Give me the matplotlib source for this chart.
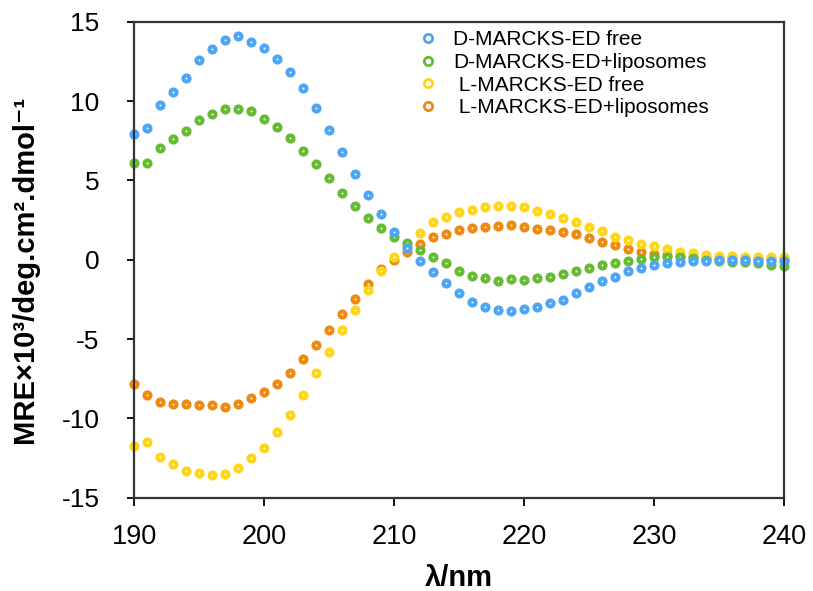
import numpy as np
import matplotlib
matplotlib.use("Agg")
import matplotlib.pyplot as plt
from matplotlib.lines import Line2D

plt.rcParams['font.family'] = ['Liberation Sans', 'DejaVu Sans']
plt.rcParams['axes.unicode_minus'] = False

wavelength = np.arange(190, 241)

d_free = [7.96, 8.31, 9.75, 10.59, 11.48, 12.57, 13.31, 13.84, 14.11, 13.75,
          13.33, 12.64, 11.86, 10.80, 9.58, 8.16, 6.79, 5.38, 4.11, 2.89,
          1.77, 0.74, -0.10, -0.80, -1.48, -2.07, -2.66, -2.99, -3.16, -3.21,
          -3.10, -2.99, -2.74, -2.51, -2.11, -1.69, -1.31, -1.06, -0.68, -0.53,
          -0.32, -0.21, -0.17, -0.11, -0.06, -0.04, 0.00, 0.00, -0.06, -0.11,
          -0.06]
d_lipo = [6.08, 6.08, 7.03, 7.59, 8.10, 8.80, 9.20, 9.53, 9.51, 9.37,
          8.90, 8.35, 7.66, 6.86, 6.06, 5.13, 4.22, 3.42, 2.62, 2.00,
          1.42, 1.03, 0.61, 0.17, -0.23, -0.68, -1.01, -1.18, -1.31, -1.24,
          -1.27, -1.18, -1.06, -0.93, -0.74, -0.55, -0.36, -0.21, -0.06, 0.06,
          0.15, 0.17, 0.17, 0.11, 0.00, -0.08, -0.17, -0.17, -0.23, -0.32,
          -0.42]
l_free = [-11.77, -11.50, -12.41, -12.87, -13.29, -13.46, -13.59, -13.48, -13.14, -12.53,
          -11.86, -10.89, -9.77, -8.54, -7.17, -5.80, -4.45, -3.16, -1.90, -0.74,
          0.19, 0.85, 1.69, 2.41, 2.68, 3.02, 3.16, 3.33, 3.42, 3.40,
          3.31, 3.06, 2.91, 2.66, 2.41, 2.07, 1.81, 1.46, 1.27, 1.01,
          0.84, 0.68, 0.46, 0.42, 0.32, 0.25, 0.21, 0.17, 0.17, 0.17,
          0.17]
l_lipo = [-7.85, -8.56, -8.97, -9.11, -9.07, -9.14, -9.18, -9.28, -9.09, -8.71,
          -8.33, -7.85, -7.13, -6.24, -5.40, -4.45, -3.42, -2.49, -1.56, -0.58,
          -0.02, 0.47, 1.01, 1.41, 1.62, 1.88, 1.98, 2.07, 2.15, 2.19,
          2.05, 1.96, 1.90, 1.73, 1.60, 1.39, 1.14, 0.91, 0.68, 0.49,
          0.38, 0.30, 0.21, 0.15, 0.12, 0.10, 0.08, 0.06, 0.05, 0.04,
          0.04]

labels = ["D-MARCKS-ED free", "D-MARCKS-ED+liposomes",
          " L-MARCKS-ED free", " L-MARCKS-ED+liposomes"]
colors = ["#4da6f5", "#66bb33", "#ffd617", "#ee8a12"]
series = [d_free, d_lipo, l_free, l_lipo]

fig = plt.figure(figsize=(8.13, 5.91), dpi=100)
ax = fig.add_axes([0.165, 0.158, 0.799, 0.805])

# L series first so the D points sit on top
for idx in [3, 2, 1, 0]:
    ax.plot(wavelength, series[idx], linestyle="none", marker="o",
            markersize=4.4, markerfacecolor="white", markeredgewidth=2.9,
            markeredgecolor=colors[idx], clip_on=False)

ax.set_xlim(190, 240)
ax.set_ylim(-15, 15)
ax.set_xticks(np.arange(190, 241, 10))
ax.set_yticks(np.arange(-15, 16, 5))
ax.tick_params(axis="x", direction="out", length=6, labelsize=19.5, pad=13, width=1.3)
ax.tick_params(axis="y", direction="out", length=5, labelsize=19, pad=20, width=1.3)
for sp in ax.spines.values():
    sp.set_linewidth(1.6)
    sp.set_color("#333333")

ax.set_ylabel("MRE×10³/deg.cm².dmol⁻¹", fontsize=21, fontweight="bold")
ax.yaxis.set_label_coords(-0.146, 0.48)
ax.set_xlabel("λ/nm", fontsize=21, fontweight="bold", labelpad=10)

handles = [Line2D([], [], linestyle="none", marker="o", markersize=6,
                  markerfacecolor="white", markeredgewidth=2,
                  markeredgecolor=c) for c in colors]
ax.legend(handles, labels, loc="upper left", bbox_to_anchor=(0.408, 1.022),
          frameon=False, fontsize=15, handletextpad=0.7, labelspacing=0.18,
          handlelength=1.0)

fig.savefig("out.png", dpi=100)
